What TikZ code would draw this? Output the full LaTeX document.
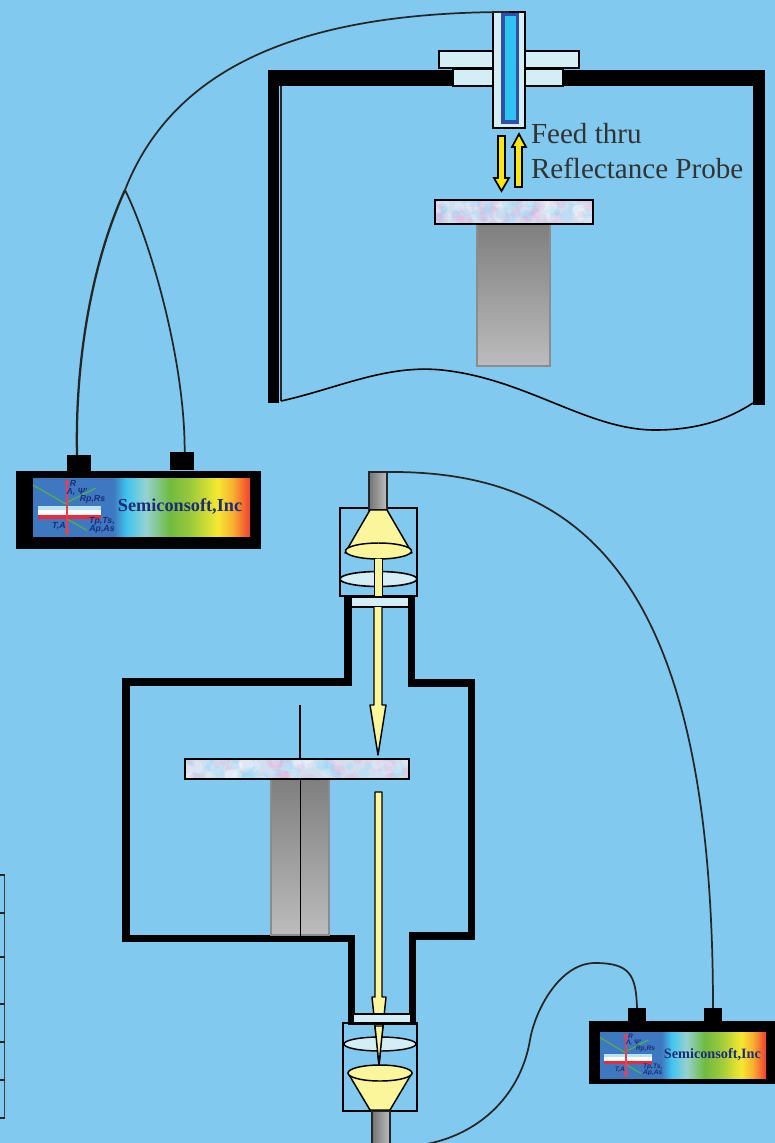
\documentclass[tikz,border=0pt]{standalone}
\usepackage{fontspec}
\setmainfont{Liberation Serif}
\newfontfamily\sansf{Liberation Sans}
\definecolor{bgblue}{HTML}{81C9EE}
\definecolor{lightglass}{HTML}{D4EEF5}
\definecolor{beamyellow}{HTML}{FBF59B}
\definecolor{arrowyellow}{HTML}{F7E812}
\definecolor{navy}{HTML}{1C2C78}
\definecolor{specblue}{HTML}{3E78C0}
\definecolor{specsky}{HTML}{40C4F0}
\definecolor{specteal}{HTML}{95D2D0}
\definecolor{specgreen}{HTML}{70BB40}
\definecolor{specyellow}{HTML}{F5E830}
\definecolor{specorange}{HTML}{F8B030}
\definecolor{specred}{HTML}{F04030}
\definecolor{stackcyan}{HTML}{B8E4EE}
\definecolor{stackred}{HTML}{EE2A38}
\definecolor{lineGreen}{HTML}{50B050}
\definecolor{arrowRed}{HTML}{E84050}
\definecolor{probeDark}{HTML}{3050A8}
\definecolor{probeLight}{HTML}{30C5F0}
\definecolor{pedTop}{HTML}{7F7F7F}
\definecolor{pedBot}{HTML}{BCBCBC}
\definecolor{plateBase}{HTML}{D0DEF0}
\pgfdeclarehorizontalshading{spectrum}{100bp}{
 color(0bp)=(specblue); color(25bp)=(specblue); color(43.5bp)=(specblue); color(46.5bp)=(specsky);
 color(51bp)=(specteal); color(56.5bp)=(specgreen); color(61bp)=(specgreen!70!specyellow);
 color(67.5bp)=(specyellow); color(71bp)=(specorange); color(75bp)=(specred); color(100bp)=(specred)}
\pgfdeclarehorizontalshading{cylinder}{100bp}{
 color(0bp)=(black!55); color(25bp)=(black!55); color(75bp)=(black!25); color(100bp)=(black!25)}
\tikzset{
 x=0.75pt,y=-0.75pt,
 px/.style={inner sep=0pt,outer sep=0pt,anchor=north west},
 solid black/.style={fill=black,draw=none},
 glass/.style={fill=lightglass,draw=black,line width=1.2pt},
 thinbox/.style={draw=black,line width=1pt},
 wall/.style={draw=black,line width=5.5pt,line join=miter,line cap=butt},
 fiber/.style={draw=black!85,line width=1.3pt},
 beam/.style={fill=beamyellow,draw=black,line width=1.1pt,line join=round},
 yarrow/.style={fill=arrowyellow,draw=black,line width=1.3pt,line join=miter},
 pedestal/.style={top color=pedTop,bottom color=pedBot,draw=black!45,line width=1pt},
 cyl/.style={shading=cylinder,draw=black!85,line width=1pt},
 labeltext/.style={inner sep=0pt,outer sep=0pt,anchor=base west,text=black!80,font=\fontsize{21.8}{24}\selectfont},
 tinylabel/.style={inner sep=0pt,text=navy}
}
\newcommand\pxnode[6]{%
 \pgfmathsetmacro\pxw{(#4-#2)*0.75}\pgfmathsetmacro\pxh{(#5-#3)*0.75}%
 \node[px,#1,minimum width=\pxw pt,minimum height=\pxh pt] (#6) at (#2,#3) {};}
% mottled plate: x0 y0 x1 y1 n
\newcommand\mottle[5]{%
 \fill[plateBase] (#1,#2) rectangle (#3,#4);
 \begin{scope}
 \clip (#1,#2) rectangle (#3,#4);
 \pgfmathsetseed{#5}
 \foreach \i in {1,...,110}{
  \pgfmathsetmacro\cx{#1+rnd*(#3-#1)}\pgfmathsetmacro\cy{#2+rnd*(#4-#2)}
  \pgfmathsetmacro\rr{3+rnd*4}
  \pgfmathtruncatemacro\kk{mod(\i,3)}
  \ifnum\kk=0 \fill[magenta!40,opacity=.2] (\cx,\cy) circle[radius=\rr];
  \else\ifnum\kk=1 \fill[cyan!45,opacity=.25] (\cx,\cy) circle[radius=\rr];
  \else \fill[white,opacity=.22] (\cx,\cy) circle[radius=\rr];\fi\fi
 }
 \end{scope}
 \draw[black,line width=1.2pt] (#1,#2) rectangle (#3,#4);}
% spectrum panel: prefix x y w h titlesize smallsize
\newcommand\specpanel[7]{%
 \begin{scope}[shift={(#2,#3)},xscale=#4/217,yscale=#5/58]
 \shade[shading=spectrum] (0,0) rectangle (217,58);
 \fill[stackcyan] (5,27.5) rectangle (68,31.5);
 \fill[white] (5,31.5) rectangle (68,36.5);
 \fill[stackred] (5,36.5) rectangle (68,40.5);
 \draw[lineGreen,line width=.9pt] (0,7) -- (32,25.5) -- (63,10);
 \draw[lineGreen,line width=.9pt] (34,41) -- (54,52.5);
 \draw[arrowRed,line width=1pt,<->,>=stealth] (34,0.5) -- (34,57.5);
 \node[tinylabel,font=\sansf\bfseries\itshape\fontsize{#7}{#7}\selectfont] (#1r) at (40,5) {R};
 \node[tinylabel,font=\sansf\bfseries\itshape\fontsize{#7}{#7}\selectfont] (#1l) at (44,14) {Λ, Ψ'};
 \node[tinylabel,font=\sansf\bfseries\itshape\fontsize{#7}{#7}\selectfont] (#1p) at (59.5,21) {Rp,Rs};
 \node[tinylabel,font=\sansf\bfseries\itshape\fontsize{#7}{#7}\selectfont] (#1t) at (26,48) {T,A};
 \node[tinylabel,font=\sansf\bfseries\itshape\fontsize{#7}{#7}\selectfont] (#1s) at (69,43.5) {Tp,Ts,};
 \node[tinylabel,font=\sansf\bfseries\itshape\fontsize{#7}{#7}\selectfont] (#1a) at (69,51) {Ap,As};
 \node[inner sep=0pt,text=navy,font=\bfseries\fontsize{#6}{#6}\selectfont] (#1n) at (147,28) {Semiconsoft,Inc};
 \end{scope}}
\begin{document}
\begin{tikzpicture}
\useasboundingbox (0,0) rectangle (775,1143);
\clip (0,0) rectangle (775,1143);
\fill[bgblue] (0,0) rectangle (775,1143);

% ---- left table edge
\draw[black!75,line width=1.1pt] (4.5,875) -- (4.5,1118);
\foreach \yy in {875,913,957,1004,1042,1080,1118}
  \draw[black!85,line width=1.1pt] (0,\yy) -- (5,\yy);

% ---- top chamber
\fill[black] (268,70) rectangle (453,86);
\fill[black] (563,70) rectangle (765,86);
\fill[black] (268,70) rectangle (279,403);
\fill[black] (753,70) rectangle (765,405);
\draw[black!85,line width=1pt] (281,86) -- (281,401);
\draw[black,line width=1.2pt] (281,401) .. controls (340,388) and (390,362) .. (450,371)
  .. controls (530,382) and (590,430) .. (655,430) .. controls (700,430) and (730,418) .. (753,403);

% flanges and feed-through
\pxnode{glass}{439}{51}{579}{68}{flangeTop}
\pxnode{glass}{453}{69}{563}{86}{flangeLow}
\pxnode{glass}{493}{12}{525}{128}{probe}
\fill[probeDark] (501,13) rectangle (519,124);
\fill[probeLight] (505,16) rectangle (516,120);

% yellow arrows
\draw[yarrow] (498,136) -- (505,136) -- (505,178) -- (509,178) -- (501.5,191) -- (494,178) -- (498,178) -- cycle;
\draw[yarrow] (515,187) -- (522,187) -- (522,147) -- (526,147) -- (519,134) -- (512,147) -- (515,147) -- cycle;

\node[labeltext] (feedlabel) at (531,143) {Feed thru};
\node[labeltext] (refllabel) at (531,178) {Reflectance Probe};

% top plate and pedestal
\pxnode{pedestal}{477}{224}{550}{366}{pedTopNode}
\mottle{435}{200}{593}{224}{11}

% ---- Lower chamber walls
\draw[wall] (348,596) -- (348,682) -- (126,682) -- (126,938.5) -- (351.5,938.5) -- (351.5,1025);
\draw[wall] (411.5,596) -- (411.5,683) -- (471.5,683) -- (471.5,936) -- (412.5,936) -- (412.5,1025);

% pedestal and rod
\pxnode{pedestal}{271}{779}{329}{935}{pedLow}
\draw[black,line width=1pt] (300,705) -- (300,759);
\draw[black,line width=1pt] (300.5,779) -- (300.5,937);
\mottle{185}{759}{409}{779}{23}

% upper optics
\pxnode{thinbox}{340}{508}{417}{596}{upperBox}
\pxnode{cyl}{369}{472}{387}{510}{fiberTop}
\draw[beam] (370,510) -- (387,510) -- (412,553) -- (345,553) -- cycle;
\draw[beam] (378.5,551) ellipse[x radius=33,y radius=8];
\draw[glass] (378.5,579) ellipse[x radius=38.5,y radius=7.5];
\draw[beam] (374.5,559) -- (374.5,597) -- (382.5,597) -- (382.5,559);
\pxnode{glass}{351}{597}{409}{607}{winTop}
\draw[beam] (374,607) -- (374,705) -- (370,705) -- (378,755) -- (386,705) -- (382,705) -- (382,607);

% lower beam
\draw[beam] (375,792) -- (382,792) -- (382,997) -- (386,997) -- (379,1065) -- (372,997) -- (375,997) -- cycle;

% lower optics
\draw[glass,line width=1.1pt,fill opacity=1] (380,1044) ellipse[x radius=36,y radius=7];
\draw[beam] (375,1026) -- (383,1026) -- (379,1065) -- cycle;
\pxnode{glass}{353}{1014}{411}{1024}{winLow}
\pxnode{thinbox}{343}{1023}{417}{1111}{lowerBox}
\pxnode{cyl}{372}{1111}{390}{1150}{fiberBottom}
\draw[beam] (348,1073) -- (412,1073) -- (390,1110) -- (370,1110) -- cycle;
\draw[beam] (380,1073) ellipse[x radius=32,y radius=8];

% ---- instrument 1
\pxnode{solid black}{16}{471}{261}{549}{inst1}
\pxnode{solid black}{67}{455}{91}{471}{connA}
\pxnode{solid black}{170}{452}{194}{470}{connB}
\specpanel{one}{33}{478}{217}{58}{13.7}{6.6}

% ---- instrument 2
\pxnode{solid black}{589}{1021}{780}{1084}{inst2}
\pxnode{solid black}{628}{1008}{646}{1022}{connC}
\pxnode{solid black}{704}{1008}{722}{1022}{connD}
\specpanel{two}{600}{1032}{166}{46}{10.7}{5}

% ---- fibres
\coordinate (junction) at (125,190);
\coordinate (offpage) at (395,1147);
\draw[fiber] (probe.north) .. controls (310,12) and (175,62) .. (junction);
\draw[fiber,line width=1.7pt] (junction) .. controls (92,262) and (75,360) .. ([xshift=-1.5pt]connA.north);
\draw[fiber] (junction) .. controls (150,240) and (185,360) .. ([xshift=2pt]connB.north);
\draw[fiber] (fiberTop.north east) .. controls (590,470) and (713,590) .. (connD.north);
\draw[fiber] (offpage) .. controls (470,1147) and (520,1100) .. (530,1040)
  .. controls (535,1010) and (560,963) .. (595,963) .. controls (630,963) and (636,975) .. (connC.north);
\end{tikzpicture}
\end{document}
